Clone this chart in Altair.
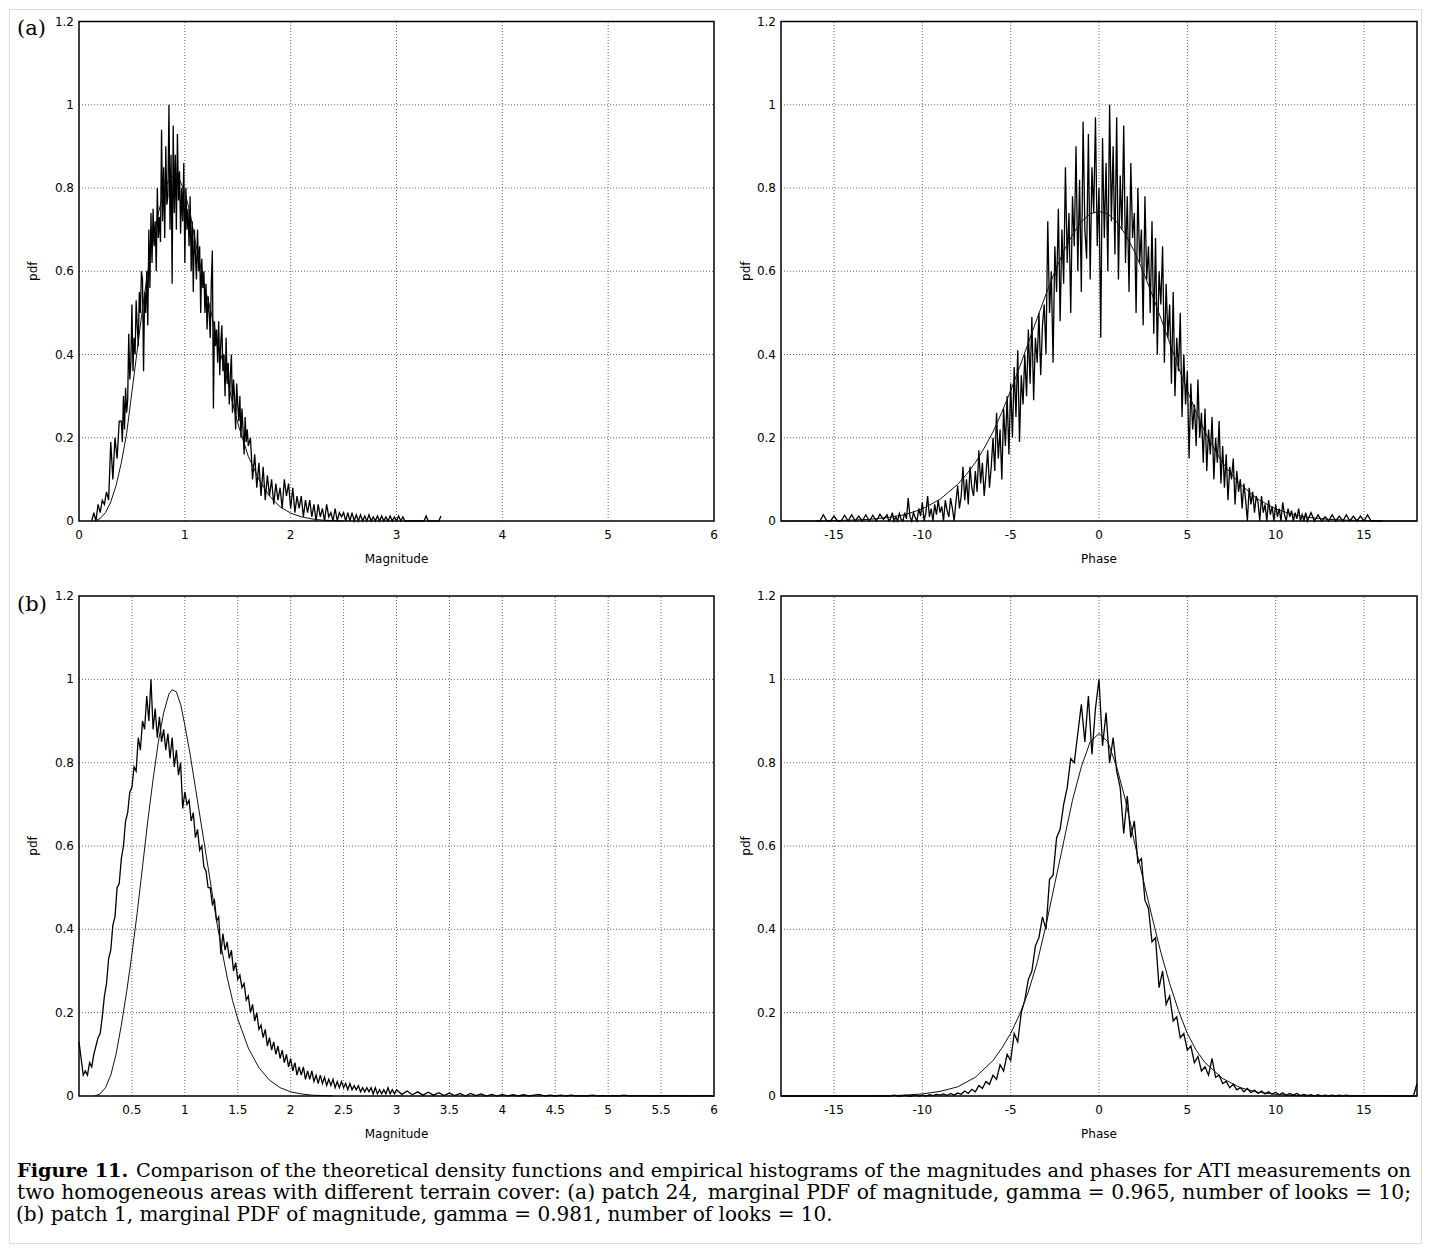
import altair as alt
import pandas as pd

# ---------------- data ----------------
Y_TICKS = [0, 0.2, 0.4, 0.6, 0.8, 1, 1.2]
MAG_TICKS_A = [0, 1, 2, 3, 4, 5, 6]
MAG_TICKS_B = [0.5, 1, 1.5, 2, 2.5, 3, 3.5, 4, 4.5, 5, 5.5, 6]
PHASE_TICKS = [-15, -10, -5, 0, 5, 10, 15]

# (a) magnitude: empirical histogram, three runs of bins
A_MAG_SEG1_X0, A_MAG_SEG1_STEP = 0.12, 0.02
A_MAG_SEG1 = [0.00, 0.02, 0.00, 0.04, 0.02, 0.05, 0.04, 0.07, 0.05, 0.19, 0.10, 0.20, 0.15, 0.24]
A_MAG_SEG2_X0, A_MAG_SEG2_STEP = 0.40, 0.01
A_MAG_SEG2 = [
    0.24, 0.19, 0.30, 0.22, 0.32, 0.26, 0.29, 0.45, 0.34, 0.38,
    0.52, 0.36, 0.44, 0.40, 0.53, 0.47, 0.42, 0.55, 0.50, 0.60,
    0.58, 0.36, 0.55, 0.50, 0.60, 0.47, 0.70, 0.56, 0.74, 0.62,
    0.75, 0.66, 0.72, 0.60, 0.80, 0.68, 0.73, 0.67, 0.94, 0.72,
    0.85, 0.68, 0.90, 0.76, 0.78, 1.00, 0.70, 0.88, 0.57, 0.95,
    0.74, 0.88, 0.70, 0.93, 0.77, 0.84, 0.69, 0.80, 0.72, 0.86,
    0.62, 0.80, 0.70, 0.75, 0.66, 0.78, 0.60, 0.72, 0.55, 0.70,
    0.64, 0.58, 0.70, 0.60, 0.66, 0.50, 0.63, 0.56, 0.60, 0.50,
    0.57, 0.46, 0.54, 0.50, 0.44, 0.57, 0.65, 0.27, 0.48, 0.42,
    0.46, 0.38, 0.48, 0.35, 0.43, 0.47, 0.36, 0.40, 0.30, 0.44,
    0.33, 0.38, 0.28, 0.35, 0.40, 0.26, 0.34, 0.30, 0.22, 0.33,
    0.28, 0.24, 0.30, 0.20, 0.27, 0.22, 0.16, 0.25, 0.19, 0.22,
    0.18,
]
A_MAG_SEG3_X0, A_MAG_SEG3_STEP = 1.62, 0.02
A_MAG_SEG3 = [
    0.20, 0.10, 0.16, 0.08, 0.14,
    0.06, 0.13, 0.05, 0.11, 0.06, 0.10, 0.04, 0.09, 0.05, 0.08,
    0.03, 0.10, 0.06, 0.09, 0.03, 0.08, 0.02, 0.06, 0.03, 0.06,
    0.01, 0.05, 0.02, 0.05, 0.01, 0.04, 0.00, 0.04, 0.01, 0.03,
    0.00, 0.04, 0.01, 0.02, 0.00, 0.03, 0.00, 0.02, 0.01, 0.02,
    0.00, 0.02, 0.00, 0.02, 0.00,
    0.015, 0, 0.015, 0, 0.012, 0, 0.015, 0, 0.01, 0, 0.012, 0, 0.012,
    0, 0.01, 0, 0.012, 0, 0.01, 0, 0.012, 0, 0.01, 0, 0,
    0, 0, 0, 0, 0, 0, 0, 0, 0.012, 0, 0, 0, 0, 0, 0, 0.012,
]
A_MAG_FIT_X = [0.15, 0.2, 0.25, 0.3, 0.35, 0.4, 0.45, 0.5, 0.55, 0.6, 0.65, 0.7, 0.75,
               0.8, 0.85, 0.9, 0.95, 1.0, 1.05, 1.1, 1.15, 1.2, 1.25, 1.3, 1.35, 1.4,
               1.45, 1.5, 1.6, 1.7, 1.8, 1.9, 2.0, 2.1, 2.2, 2.3, 2.4, 2.5]
A_MAG_FIT_Y = [0.0, 0.006, 0.02, 0.046, 0.085, 0.14, 0.21, 0.31, 0.41, 0.51, 0.6, 0.67, 0.74,
               0.79, 0.82, 0.83, 0.82, 0.79, 0.74, 0.67, 0.61, 0.55, 0.5, 0.44, 0.39, 0.34,
               0.285, 0.235, 0.155, 0.1, 0.06, 0.034, 0.019, 0.01, 0.005, 0.002, 0.001, 0.0]

# (a) phase: empirical histogram (sparse tails, fine bins in the core)
A_PH_LEFT_X0, A_PH_LEFT_STEP = -16.0, 0.2
A_PH_LEFT = [0, 0, 0.015, 0, 0, 0.012, 0, 0, 0.014, 0,
             0.015, 0, 0.012, 0, 0.015, 0, 0.014, 0, 0.016, 0.004]
A_PH_CORE_X0, A_PH_CORE_STEP = -12.0, 0.1
A_PH_CORE = [
    0.015, 0, 0.005, 0.02, 0, 0.01, 0.0, 0.018, 0.004, 0.0,
    0.02, 0.005, 0.055, 0.01, 0.0, 0.02, 0.008, 0.0, 0.03, 0.012,
    0.045, 0.0, 0.02, 0.06, 0.01, 0.03, 0.0, 0.04, 0.015, 0.05,
    0.02, 0.035, 0.0, 0.05, 0.025, 0.01, 0.055, 0.03, 0.0, 0.045,
    0.085, 0.03, 0.06, 0.13, 0.05, 0.10, 0.04, 0.13, 0.08, 0.06,
    0.12, 0.07, 0.17, 0.09, 0.14, 0.06, 0.11, 0.17, 0.08, 0.13,
    0.20, 0.12, 0.26, 0.15, 0.22, 0.10, 0.27, 0.18, 0.30, 0.16,
    0.33, 0.20, 0.37, 0.25, 0.41, 0.19, 0.35, 0.28, 0.40, 0.30,
    0.46, 0.33, 0.49, 0.29, 0.44, 0.38, 0.50, 0.35, 0.47, 0.52,
    0.40, 0.72, 0.50, 0.60, 0.38, 0.66, 0.55, 0.75, 0.48, 0.70,
    0.57, 0.85, 0.62, 0.74, 0.50, 0.78, 0.66, 0.90, 0.60, 0.82,
    0.55, 0.96, 0.70, 0.63, 0.93, 0.58, 0.85, 0.74, 0.97, 0.66,
    0.80, 0.44, 0.92, 0.68, 0.86, 0.60, 1.00, 0.72, 0.90, 0.64,
    0.97, 0.58, 0.83, 0.70, 0.95, 0.62, 0.78, 0.55, 0.86, 0.68,
    0.74, 0.50, 0.80, 0.62, 0.70, 0.47, 0.78, 0.58, 0.66, 0.50,
    0.72, 0.45, 0.68, 0.40, 0.60, 0.52, 0.66, 0.38, 0.57, 0.44,
    0.52, 0.33, 0.55, 0.30, 0.44, 0.36, 0.50, 0.25, 0.40, 0.28,
    0.36, 0.15, 0.33, 0.22, 0.28, 0.18, 0.34, 0.20, 0.26, 0.14,
    0.27, 0.12, 0.22, 0.16, 0.25, 0.10, 0.20, 0.14, 0.24, 0.09,
    0.18, 0.08, 0.16, 0.05, 0.13, 0.10, 0.15, 0.04, 0.12, 0.07,
    0.10, 0.03, 0.09, 0.05, 0.0, 0.08, 0.04, 0.07, 0.02, 0.06,
    0.045, 0.0, 0.06, 0.02, 0.04, 0.0, 0.05, 0.015, 0.035, 0.0,
    0.04, 0.01, 0.03, 0.0, 0.045, 0.015, 0.0, 0.03, 0.01, 0.025,
    0.0, 0.02, 0.005, 0.03, 0.0, 0.015, 0.0, 0.02, 0.0, 0.01,
    0.02,
]
A_PH_RIGHT_X0, A_PH_RIGHT_STEP = 12.2, 0.2
A_PH_RIGHT = [0, 0.015, 0, 0.01, 0, 0.015, 0, 0.012, 0, 0.015,
              0, 0.012, 0, 0.012, 0, 0.015, 0, 0, 0, 0]
A_PH_FIT_X = [-18, -16, -15, -14, -13, -12, -11, -10, -9, -8, -7.5, -7, -6.5, -6, -5.5, -5,
              -4.5, -4, -3.5, -3, -2.5, -2, -1.5, -1, -0.5, 0, 0.5, 1, 1.5, 2, 2.5, 3, 3.5,
              4, 4.5, 5, 5.5, 6, 6.5, 7, 7.5, 8, 9, 10, 11, 12, 13, 14, 15, 16, 18]
A_PH_FIT_Y = [0, 0, 0.001, 0.002, 0.004, 0.008, 0.015, 0.029, 0.052, 0.088, 0.112, 0.14,
              0.175, 0.214, 0.261, 0.313, 0.369, 0.428, 0.487, 0.545, 0.599, 0.648, 0.688,
              0.719, 0.738, 0.744, 0.738, 0.719, 0.688, 0.648, 0.599, 0.545, 0.487, 0.428,
              0.369, 0.313, 0.261, 0.214, 0.175, 0.14, 0.112, 0.088, 0.052, 0.029, 0.015,
              0.008, 0.004, 0.002, 0.001, 0, 0]

# (b) magnitude: empirical histogram (bins of 0.02 from 0, then 0.05 in the tail)
B_MAG_X0, B_MAG_STEP = 0.0, 0.02
B_MAG_HIST = [
    0.13, 0.09, 0.05, 0.06, 0.05, 0.08, 0.07, 0.10, 0.12, 0.14,
    0.15, 0.19, 0.24, 0.27, 0.33, 0.35, 0.41, 0.43, 0.50, 0.51,
    0.57, 0.60, 0.66, 0.68, 0.73, 0.74, 0.79, 0.78, 0.86, 0.83,
    0.90, 0.88, 0.96, 0.90, 1.00, 0.88, 0.93, 0.86, 0.91, 0.85,
    0.88, 0.83, 0.87, 0.81, 0.86, 0.79, 0.83, 0.77, 0.80, 0.69,
    0.73, 0.70, 0.71, 0.66, 0.68, 0.62, 0.64, 0.59, 0.60, 0.55,
    0.54, 0.50, 0.50, 0.46, 0.47, 0.42, 0.43, 0.34, 0.39, 0.35,
    0.37, 0.33, 0.35, 0.30, 0.32, 0.28, 0.29, 0.26, 0.27, 0.23,
    0.24, 0.20, 0.22, 0.18, 0.20, 0.16, 0.17, 0.14, 0.16, 0.12,
    0.14, 0.11, 0.13, 0.10, 0.12, 0.09, 0.11, 0.08, 0.10, 0.07,
    0.09, 0.06, 0.08, 0.05, 0.07, 0.05, 0.07, 0.04, 0.06, 0.04,
    0.06, 0.035, 0.05, 0.03, 0.05, 0.03, 0.045, 0.025, 0.04, 0.025,
    0.04, 0.02, 0.035, 0.02, 0.035, 0.02, 0.03, 0.015, 0.03, 0.015,
    0.025, 0.015, 0.025, 0.01, 0.02, 0.01, 0.02, 0.01, 0.02, 0.005,
    0.02, 0.005, 0.015, 0.005, 0.015, 0.005, 0.02, 0.005, 0.015, 0.005,
    0.015,
]
B_MAG_TAIL_X0, B_MAG_TAIL_STEP = 3.05, 0.05
B_MAG_TAIL = [
    0.004, 0.012, 0.003, 0.01, 0.002, 0.009, 0.002, 0.008, 0.001, 0.007,
    0.001, 0.006, 0.0, 0.006, 0.001, 0.005, 0.0, 0.004, 0.0, 0.004,
    0.0, 0.003, 0.0, 0.003, 0.0, 0.002, 0.004, 0.0, 0.002, 0.0,
    0.002, 0.0, 0.002, 0.0, 0.001, 0.0, 0.002, 0.0, 0.001, 0.0,
    0.001, 0.0, 0.002, 0.0, 0.001, 0.0, 0.001, 0.0, 0.001, 0.0,
    0.001, 0.0, 0.001, 0.0, 0.001, 0.0, 0.001, 0.0, 0.001, 0.0,
]
B_MAG_FIT_X = [0.15, 0.2, 0.25, 0.3, 0.35, 0.4, 0.45, 0.5, 0.55, 0.6, 0.65, 0.7, 0.75, 0.8,
               0.85, 0.88, 0.92, 0.96, 1.0, 1.05, 1.1, 1.15, 1.2, 1.25, 1.3, 1.35, 1.4, 1.45,
               1.5, 1.6, 1.7, 1.8, 1.9, 2.0, 2.1, 2.2, 2.4]
B_MAG_FIT_Y = [0, 0.005, 0.02, 0.05, 0.1, 0.17, 0.25, 0.34, 0.44, 0.55, 0.66, 0.76, 0.85, 0.92,
               0.965, 0.975, 0.97, 0.94, 0.89, 0.82, 0.74, 0.66, 0.58, 0.5, 0.42, 0.35, 0.285,
               0.23, 0.185, 0.115, 0.068, 0.038, 0.02, 0.01, 0.005, 0.002, 0.0]

# (b) phase: empirical histogram (bins of 0.2 from -18)
B_PH_X0, B_PH_STEP = -18.0, 0.2
B_PH_HIST = [
    0, 0, 0, 0, 0, 0, 0, 0, 0, 0,
    0, 0, 0, 0, 0, 0, 0, 0, 0, 0,
    0, 0, 0, 0, 0, 0, 0, 0, 0, 0,
    0, 0, 0.002, 0, 0, 0.002, 0, 0, 0.003, 0,
    0.002, 0, 0.003, 0.001, 0.004, 0.002, 0.005, 0.001, 0.006, 0.002,
    0.007, 0.004, 0.012, 0.006, 0.016, 0.01, 0.025, 0.018, 0.035, 0.028,
    0.05, 0.04, 0.075, 0.06, 0.10, 0.085, 0.15, 0.13, 0.20, 0.23,
    0.28, 0.30, 0.36, 0.38, 0.43, 0.40, 0.52, 0.53, 0.62, 0.64,
    0.70, 0.74, 0.81, 0.80, 0.87, 0.94, 0.85, 0.96, 0.82, 0.93,
    1.00, 0.84, 0.92, 0.80, 0.86, 0.78, 0.74, 0.63, 0.72, 0.62,
    0.66, 0.56, 0.57, 0.47, 0.45, 0.37, 0.38, 0.26, 0.30, 0.22,
    0.24, 0.18, 0.19, 0.14, 0.15, 0.11, 0.12, 0.08, 0.095, 0.06,
    0.07, 0.05, 0.09, 0.045, 0.05, 0.03, 0.035, 0.02, 0.028, 0.015,
    0.02, 0.01, 0.018, 0.008, 0.014, 0.006, 0.012, 0.005, 0.01, 0.004,
    0.009, 0.003, 0.008, 0.002, 0.006, 0.002, 0.006, 0.001, 0.004, 0.001,
    0.003, 0, 0.003, 0, 0.002, 0, 0.002, 0, 0.002, 0,
    0.002, 0, 0.001, 0, 0.001, 0, 0.001, 0, 0.001, 0,
    0.001, 0, 0.001, 0, 0, 0, 0, 0, 0, 0,
    0.03,
]
B_PH_FIT_X = [-18, -14, -12, -11, -10, -9, -8, -7, -6, -5.5, -5, -4.5, -4, -3.5, -3, -2.5, -2,
              -1.5, -1, -0.5, 0, 0.5, 1, 1.5, 2, 2.5, 3, 3.5, 4, 4.5, 5, 5.5, 6, 7, 8, 9, 10,
              11, 12, 18]
B_PH_FIT_Y = [0, 0, 0.0005, 0.002, 0.005, 0.011, 0.022, 0.045, 0.085, 0.115, 0.15, 0.195, 0.25,
              0.32, 0.41, 0.51, 0.61, 0.71, 0.79, 0.85, 0.87, 0.85, 0.79, 0.71, 0.61, 0.52,
              0.43, 0.345, 0.27, 0.205, 0.15, 0.11, 0.08, 0.042, 0.02, 0.009, 0.004, 0.001,
              0, 0]

CAPTION_BOLD = "Figure 11."
CAPTION_L1 = ("Comparison of the theoretical density functions and empirical histograms "
              "of the magnitudes and phases for ATI measurements on")
CAPTION_L2A = "two homogeneous areas with different terrain cover: (a) patch 24,"
CAPTION_L2B = "marginal PDF of magnitude, gamma = 0.965, number of looks = 10;"
CAPTION_L3 = "(b) patch 1, marginal PDF of magnitude, gamma = 0.981, number of looks = 10."

# ---------------- layout ----------------
OFF = 9            # page position of the view origin (8px margin + 1px padding)
W, H = 1412, 1234  # whole figure frame
SANS = "DejaVu Sans"
SERIF = "DejaVu Serif"


def bins(x0, step, ys):
    return [round(x0 + i * step, 4) for i in range(len(ys))]


def fmt(v):
    return f"{v:g}"


def text(s, x, y, size, font=SERIF, weight="normal", align="left",
         baseline="alphabetic", angle=0):
    return alt.Chart(pd.DataFrame({"t": [s]})).mark_text(
        align=align, baseline=baseline, font=font, fontSize=size, fontWeight=weight,
        angle=angle, color="black").encode(
        x=alt.value(x - OFF), y=alt.value(y - OFF), text="t:N")


def panel(hx, hy, fx, fy, xdom, xticks, xpix, ypix, xtitle, ytitle_x):
    xr = [xpix[0] - OFF, xpix[1] - OFF]
    yr = [ypix[0] - OFF, ypix[1] - OFF]
    xs = alt.Scale(domain=xdom, range=xr, nice=False, zero=False)
    ys = alt.Scale(domain=[0, 1.2], range=yr, nice=False, zero=False)

    inner_x = [t for t in xticks if xdom[0] < t < xdom[1]]
    inner_y = [t for t in Y_TICKS if 0 < t < 1.2]
    dots = dict(color="#666", strokeWidth=1, strokeDash=[1, 2])

    vgrid = alt.Chart(pd.DataFrame({"g": inner_x})).mark_rule(**dots).encode(
        x=alt.X("g:Q", scale=xs, axis=None),
        y=alt.Y(datum=0, scale=ys, axis=None), y2=alt.Y2(datum=1.2))
    hgrid = alt.Chart(pd.DataFrame({"g": inner_y})).mark_rule(**dots).encode(
        y=alt.Y("g:Q", scale=ys, axis=None),
        x=alt.X(datum=xdom[0], scale=xs, axis=None), x2=alt.X2(datum=xdom[1]))
    hist = alt.Chart(pd.DataFrame({"x": hx, "y": hy})).mark_line(
        color="black", strokeWidth=1.3, clip=True).encode(
        x=alt.X("x:Q", scale=xs, axis=None), y=alt.Y("y:Q", scale=ys, axis=None))
    fit = alt.Chart(pd.DataFrame({"x": fx, "y": fy})).mark_line(
        color="#111", strokeWidth=1, clip=True).encode(
        x=alt.X("x:Q", scale=xs, axis=None), y=alt.Y("y:Q", scale=ys, axis=None))
    box = alt.Chart(pd.DataFrame({"b": [0]})).mark_rect(
        fillOpacity=0, stroke="black", strokeWidth=1.5).encode(
        x=alt.X(datum=xdom[0], scale=xs, axis=None), x2=alt.X2(datum=xdom[1]),
        y=alt.Y(datum=0, scale=ys, axis=None), y2=alt.Y2(datum=1.2))
    xlab = alt.Chart(pd.DataFrame({"v": xticks, "s": [fmt(t) for t in xticks]})).mark_text(
        font=SANS, fontSize=12, color="black", align="center", baseline="alphabetic",
        dy=17.5).encode(
        x=alt.X("v:Q", scale=xs, axis=None),
        y=alt.Y(datum=0, scale=ys, axis=None), text="s:N")
    ylab = alt.Chart(pd.DataFrame({"v": Y_TICKS, "s": [fmt(t) for t in Y_TICKS]})).mark_text(
        font=SANS, fontSize=12, color="black", align="right", baseline="middle",
        dx=-5).encode(
        y=alt.Y("v:Q", scale=ys, axis=None),
        x=alt.X(datum=xdom[0], scale=xs, axis=None), text="s:N")
    xt = text(xtitle, (xpix[0] + xpix[1]) / 2, ypix[0] + 42, 12, font=SANS, align="center")
    yt = text("pdf", ytitle_x, (ypix[0] + ypix[1]) / 2, 12, font=SANS, align="center",
              baseline="middle", angle=270)
    return alt.layer(vgrid, hgrid, hist, fit, box, xlab, ylab, xt, yt)


LX, RX = (79, 714), (781, 1417)
TY, BY = (521, 21.5), (1096, 596)

a_mag_x = (bins(A_MAG_SEG1_X0, A_MAG_SEG1_STEP, A_MAG_SEG1)
           + bins(A_MAG_SEG2_X0, A_MAG_SEG2_STEP, A_MAG_SEG2)
           + bins(A_MAG_SEG3_X0, A_MAG_SEG3_STEP, A_MAG_SEG3))
a_mag_y = A_MAG_SEG1 + A_MAG_SEG2 + A_MAG_SEG3
a_ph_x = (bins(A_PH_LEFT_X0, A_PH_LEFT_STEP, A_PH_LEFT)
          + bins(A_PH_CORE_X0, A_PH_CORE_STEP, A_PH_CORE)
          + bins(A_PH_RIGHT_X0, A_PH_RIGHT_STEP, A_PH_RIGHT))
a_ph_y = A_PH_LEFT + A_PH_CORE + A_PH_RIGHT

p_a_mag = panel(a_mag_x, a_mag_y, A_MAG_FIT_X, A_MAG_FIT_Y,
                [0, 6], MAG_TICKS_A, LX, TY, "Magnitude", 33)
p_a_ph = panel(a_ph_x, a_ph_y, A_PH_FIT_X, A_PH_FIT_Y,
               [-18, 18], PHASE_TICKS, RX, TY, "Phase", 746)
p_b_mag = panel(bins(B_MAG_X0, B_MAG_STEP, B_MAG_HIST) + bins(B_MAG_TAIL_X0, B_MAG_TAIL_STEP, B_MAG_TAIL),
                B_MAG_HIST + B_MAG_TAIL, B_MAG_FIT_X, B_MAG_FIT_Y,
                [0, 6], MAG_TICKS_B, LX, BY, "Magnitude", 33)
p_b_ph = panel(bins(B_PH_X0, B_PH_STEP, B_PH_HIST), B_PH_HIST, B_PH_FIT_X, B_PH_FIT_Y,
               [-18, 18], PHASE_TICKS, RX, BY, "Phase", 746)

labels = [
    text("(a)", 17, 29, 21, baseline="middle"),
    text("(b)", 17, 605, 21, baseline="middle"),
    text(CAPTION_BOLD, 17, 1177, 19.3, weight="bold"),
    text(CAPTION_L1, 1411, 1177, 19.3, align="right"),
    text(CAPTION_L2A, 17, 1199, 20.3),
    text(CAPTION_L2B, 1411, 1199, 20.3, align="right"),
    text(CAPTION_L3, 16, 1221, 20),
]

chart = alt.layer(p_a_mag, p_a_ph, p_b_mag, p_b_ph, *labels).resolve_scale(
    x="independent", y="independent"
).properties(
    width=W, height=H, padding=1, autosize=alt.AutoSizeParams(type="none")
).configure_view(stroke="#333", strokeWidth=1).configure(background="white")

chart.save("out.html", embed_options={"renderer": "svg", "actions": False})
